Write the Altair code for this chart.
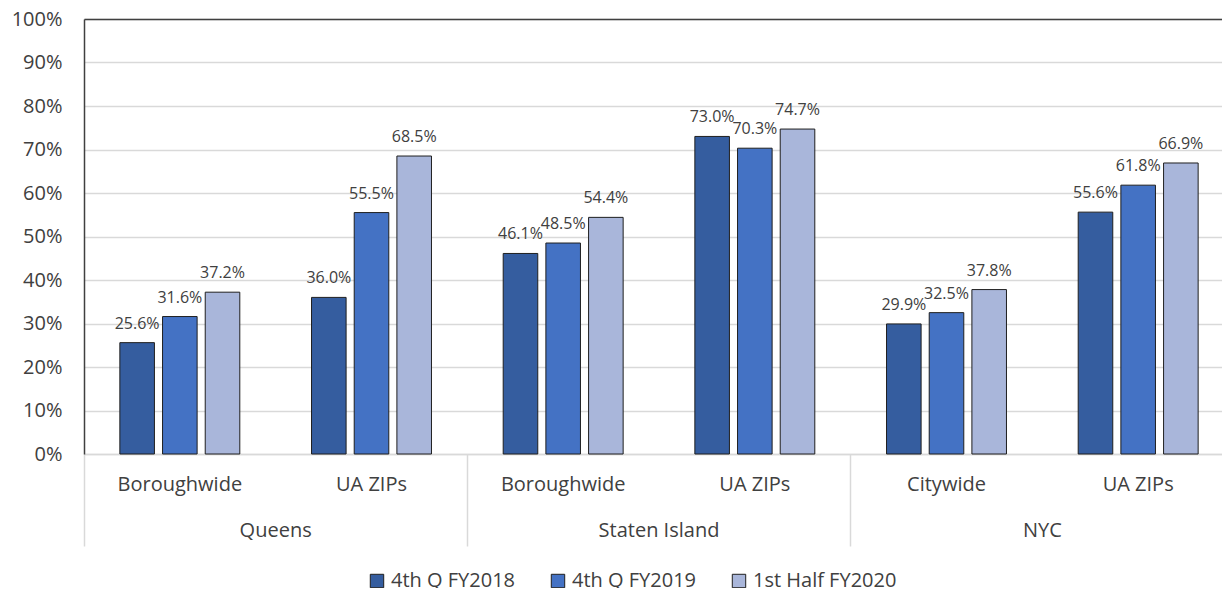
import altair as alt
import pandas as pd

regions = ["Queens", "Queens", "Staten Island", "Staten Island", "NYC", "NYC"]
subs = ["Boroughwide", "UA ZIPs", "Boroughwide", "UA ZIPs", "Citywide", "UA ZIPs"]
series = ["4th Q FY2018", "4th Q FY2019", "1st Half FY2020"]
fy2018 = [0.256, 0.360, 0.461, 0.730, 0.299, 0.556]
fy2019 = [0.316, 0.555, 0.485, 0.703, 0.325, 0.618]
fy2020 = [0.372, 0.685, 0.544, 0.747, 0.378, 0.669]
region_order = ["Queens", "Staten Island", "NYC"]
y_ticks = [0.0, 0.1, 0.2, 0.3, 0.4, 0.5, 0.6, 0.7, 0.8, 0.9, 1.0]
colors = ["#355D9F", "#4472C4", "#A9B6DA"]

rows = []
keys = []
for i, (r, s) in enumerate(zip(regions, subs)):
    k = f"{r}|{s}"
    keys.append(k)
    for name, vals in zip(series, [fy2018, fy2019, fy2020]):
        rows.append({"key": k, "region": r, "sub": s, "series": name, "value": vals[i]})
df = pd.DataFrame(rows)
rdf = pd.DataFrame({"region": region_order})

FONT = "Open Sans"
TXT = "#404040"
PLOT_W = 1138   # drawn width (svg clips beyond)
BAND_W = 1150   # x range, the plot runs past the right edge as in the reference

x_enc = alt.X(
    "key:N", sort=keys, title=None,
    scale=alt.Scale(paddingInner=0, paddingOuter=0, range=[0, BAND_W]),
    axis=alt.Axis(labelExpr="split(datum.label, '|')[1]", ticks=False,
                  domainColor="#d9d9d9", domainWidth=1.5, labelAngle=0,
                  labelFontSize=20, labelColor=TXT, labelFont=FONT,
                  labelPadding=20, orient="bottom"),
)
xo_enc = alt.XOffset("series:N", sort=series,
                     scale=alt.Scale(paddingInner=0.19, paddingOuter=0.84))
y_enc = alt.Y("value:Q", title=None,
              scale=alt.Scale(domain=[0, 1], nice=False),
              axis=alt.Axis(format=".0%", values=y_ticks, labelOverlap=False,
                            ticks=False, domainColor="#404040", domainWidth=1.5,
                            labelFontSize=20, labelColor=TXT, labelFont=FONT,
                            labelPadding=22, gridColor="#d9d9d9", gridWidth=1.5))

base = alt.Chart(df).encode(x=x_enc, xOffset=xo_enc, y=y_enc)

bars = base.mark_bar(stroke="#1f1f1f", strokeWidth=1).encode(
    color=alt.Color("series:N", sort=series,
                    scale=alt.Scale(domain=series, range=colors),
                    legend=alt.Legend(title=None, orient="none", direction="horizontal",
                                      legendX=283, legendY=552,
                                      symbolType="square", symbolSize=180,
                                      symbolStrokeColor="#1f1f1f", symbolStrokeWidth=1,
                                      labelFontSize=20, labelFont=FONT, labelColor=TXT,
                                      labelLimit=400, columnPadding=32))
)

labels = base.mark_text(dy=-19, fontSize=16, font=FONT, color=TXT).encode(
    text=alt.Text("value:Q", format=".1%")
)

inner = alt.layer(bars, labels)

region_axis = alt.Chart(rdf).mark_rule(opacity=0).encode(
    x=alt.X("region:N", sort=region_order, title=None,
            scale=alt.Scale(paddingInner=0, paddingOuter=0, range=[0, BAND_W]),
            axis=alt.Axis(orient="bottom", domain=False, tickSize=92, tickColor="#d9d9d9",
                          tickWidth=1.5, bandPosition=0, labelAngle=0, labelFontSize=20,
                          labelFont=FONT, labelColor=TXT, labelPadding=-26)),
    y=alt.value(0),
)

top_axis = alt.Chart(rdf).mark_rule(opacity=0).encode(
    x=alt.X("region:N", sort=region_order, title=None,
            scale=alt.Scale(paddingInner=0, paddingOuter=0, range=[0, BAND_W]),
            axis=alt.Axis(orient="top", labels=False, ticks=False, grid=False,
                          domainColor="#404040", domainWidth=1.5)),
    y=alt.value(0),
)

chart = alt.layer(inner, region_axis, top_axis).resolve_scale(x="independent").resolve_axis(
    x="independent"
).properties(
    width=PLOT_W, height=435,
    autosize=alt.AutoSizeParams(type="none"),
    padding={"left": 76, "top": 11, "right": 0, "bottom": 134},
).configure_view(stroke=None)

chart.save("out.html", embed_options={"renderer": "svg", "actions": False})
